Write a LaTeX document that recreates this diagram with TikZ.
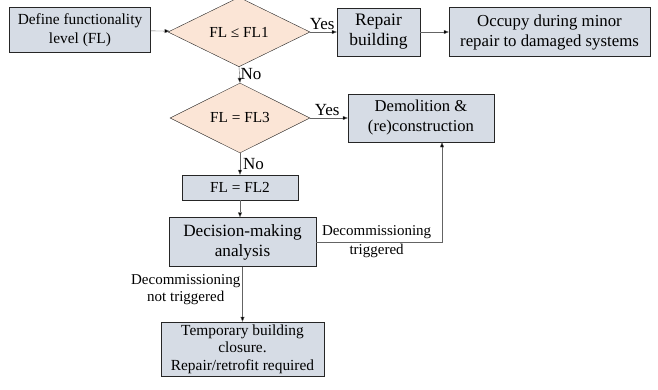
\documentclass[tikz,border=0pt]{standalone}
\usepackage{fontspec}
\setmainfont{Liberation Serif}
\usetikzlibrary{positioning, arrows.meta, shapes.geometric}
\definecolor{boxfill}{RGB}{214, 220, 229}
\definecolor{checkfill}{RGB}{251, 229, 214}
\definecolor{linegray}{RGB}{100, 100, 100}

\begin{document}
\begin{tikzpicture}[x=1pt, y=-1pt,
    stepbox/.style={draw=black!85, fill=boxfill, align=center, inner sep=1pt},
    check/.style={diamond, draw=black!85, fill=checkfill, inner sep=0pt, font=\fontsize{15.3}{17}\selectfont},
    flow/.style={draw=linegray, -{Triangle[length=5pt, width=4pt, fill=black]}},
    lbl/.style={font=\fontsize{17}{19}\selectfont},
    note/.style={align=center, font=\fontsize{15}{17}\selectfont}]
        \useasboundingbox (0,0) rectangle (658,389);

        % first check
        \node[stepbox, minimum width=141pt, minimum height=45pt, font=\fontsize{15.4}{19}\selectfont] (define) at (80,30) {Define functionality\\level (FL)};
        \node[check, minimum width=142pt, minimum height=62pt] (fl1) at (239,32) {FL ≤ FL1};
        \node[stepbox, minimum width=83pt, minimum height=48pt, font=\fontsize{17.5}{20}\selectfont] (repair) at (378.5,32) {Repair\\building};
        \node[stepbox, minimum width=201pt, minimum height=49pt, font=\fontsize{16.8}{20}\selectfont] (occupy) at (549.5,32) {Occupy during minor\\repair to damaged systems};

        \draw[flow] (define) -- (fl1);
        \draw[flow] (fl1) -- node[lbl, above, pos=0.45, inner sep=2.5pt] {Yes} (repair);
        \draw[flow] (repair) -- (occupy);

        % second check
        \node[check, minimum width=140pt, minimum height=60pt] (fl3) at (240,118) {FL = FL3};
        \node[stepbox, minimum width=146pt, minimum height=48pt, font=\fontsize{16.6}{20}\selectfont] (demolish) at (421,118) {Demolition \&\\(re)construction};

        \draw[flow] (fl1.south) -- node[lbl, right, pos=0.45, inner sep=1pt] {No} (fl3.north);
        \draw[flow] (fl3) -- node[lbl, above, pos=0.45, inner sep=2.5pt] {Yes} (demolish);

        % FL2 and decision
        \node[stepbox, minimum width=116pt, minimum height=25pt, font=\fontsize{15.3}{17}\selectfont] (fl2) at (240,187.5) {FL = FL2};
        \node[stepbox, minimum width=147pt, minimum height=49pt, font=\fontsize{17.2}{20}\selectfont] (decide) at (242.5,242) {Decision-making\\analysis};
        \node[stepbox, minimum width=163pt, minimum height=54pt, font=\fontsize{15.4}{17.5}\selectfont] (closure) at (242.5,349) {Temporary building\\closure.\\Repair/retrofit required};

        \draw[flow] (fl3.south) -- node[lbl, right, pos=0.5, inner sep=3pt] {No} (fl2.north);
        \draw[flow] (fl2) -- (fl2 |- decide.north);
        \draw[flow] (decide.east) -| node[note, pos=0.24] {Decommissioning\\[2pt]triggered} ([xshift=21pt]demolish.south);
        \draw[flow] (decide) -- node[note, left, pos=0.42, inner sep=2pt] {Decommissioning\\not triggered} (closure);
      \end{tikzpicture}
\end{document}
